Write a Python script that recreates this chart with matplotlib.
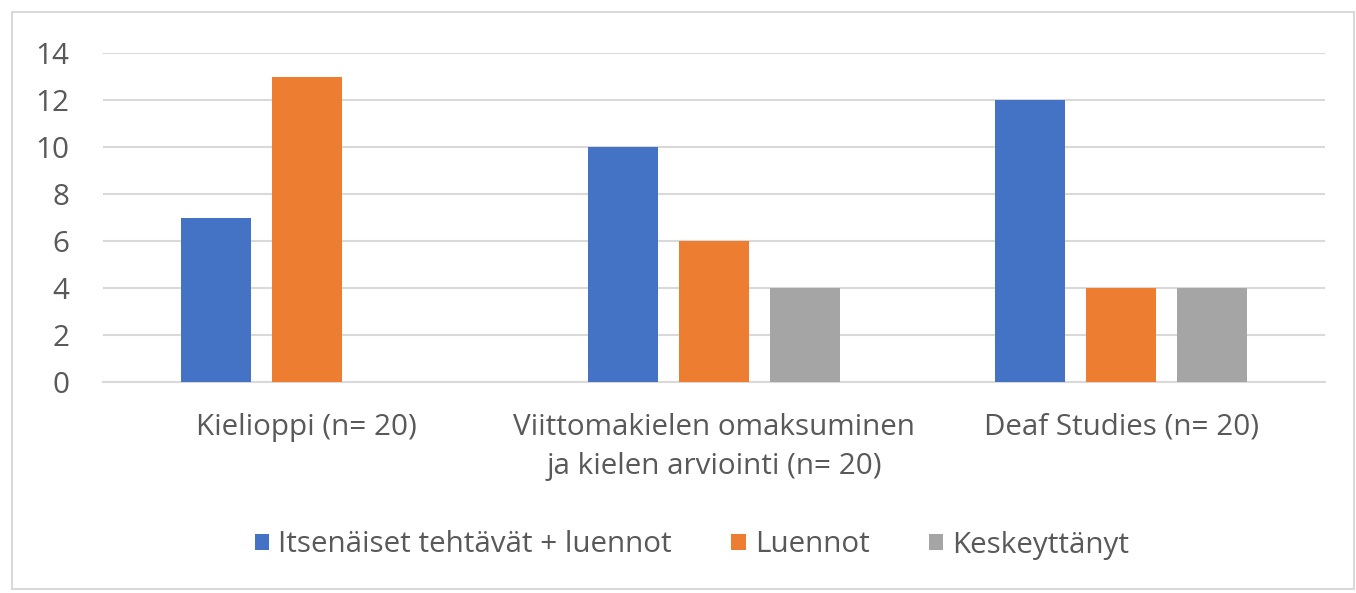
import matplotlib
matplotlib.use("Agg")
import matplotlib.pyplot as plt
from matplotlib.patches import Rectangle, Patch
import numpy as np

categories = ["Kielioppi (n= 20)",
              "Viittomakielen omaksuminen\nja kielen arviointi (n= 20)",
              "Deaf Studies (n= 20)"]
series_names = ["Itsenäiset tehtävät + luennot", "Luennot", "Keskeyttänyt"]
itsenaiset = [7, 10, 12]
luennot = [13, 6, 4]
keskeyttanyt = [0, 4, 4]
yticks = [0, 2, 4, 6, 8, 10, 12, 14]

colors = ["#4472C4", "#ED7D31", "#A5A5A5"]
text_color = "#595959"
grid_color = "#D9D9D9"

plt.rcParams['font.family'] = ['Open Sans', 'DejaVu Sans']

W, H = 1356, 593
fig = plt.figure(figsize=(W / 100, H / 100), dpi=100)

# chart border
fig.patches.append(Rectangle((12 / W, 4 / H), (W - 14) / W, (H - 16) / H,
                             transform=fig.transFigure, fill=False,
                             edgecolor=grid_color, linewidth=1.5))

left, right = 103 / W, 1325 / W
bottom, top = 1 - 382 / H, 1 - 53 / H
ax = fig.add_axes([left, bottom, right - left, top - bottom])

x = np.arange(len(categories))
bw = 0.172
off = 0.2235
for i, (vals, c, name) in enumerate(zip([itsenaiset, luennot, keskeyttanyt], colors, series_names)):
    ax.bar(x + (i - 1) * off, vals, width=bw, color=c, label=name, zorder=3)

fs = 21.3
ax.set_xlim(-0.5, len(categories) - 0.5)
ax.set_ylim(0, 14)
ax.set_yticks(yticks)
ax.set_yticklabels([str(v) for v in yticks])
ax.yaxis.grid(True, color=grid_color, linewidth=1.5, zorder=0)
ax.set_axisbelow(True)
for s in ["top", "right", "left"]:
    ax.spines[s].set_visible(False)
ax.spines["bottom"].set_color(grid_color)
ax.spines["bottom"].set_linewidth(1.5)
ax.tick_params(axis="both", length=0, colors=text_color, labelsize=fs)
ax.tick_params(axis="y", pad=24)
ax.tick_params(axis="x", pad=22)
ax.set_xticks(x)
ax.set_xticklabels(categories, linespacing=1.48)
for lab in ax.get_yticklabels():
    lab.set_horizontalalignment("right")

handles = [Patch(facecolor=c, edgecolor="none") for c in colors]
fig.legend(handles, series_names, loc="center", bbox_to_anchor=(692 / W, 1 - 545 / H),
           ncol=3, frameon=False, fontsize=fs, labelcolor=text_color,
           handlelength=0.5, handleheight=0.5, handletextpad=0.3, columnspacing=2.0)

fig.savefig("out.png", dpi=100, facecolor="white")
